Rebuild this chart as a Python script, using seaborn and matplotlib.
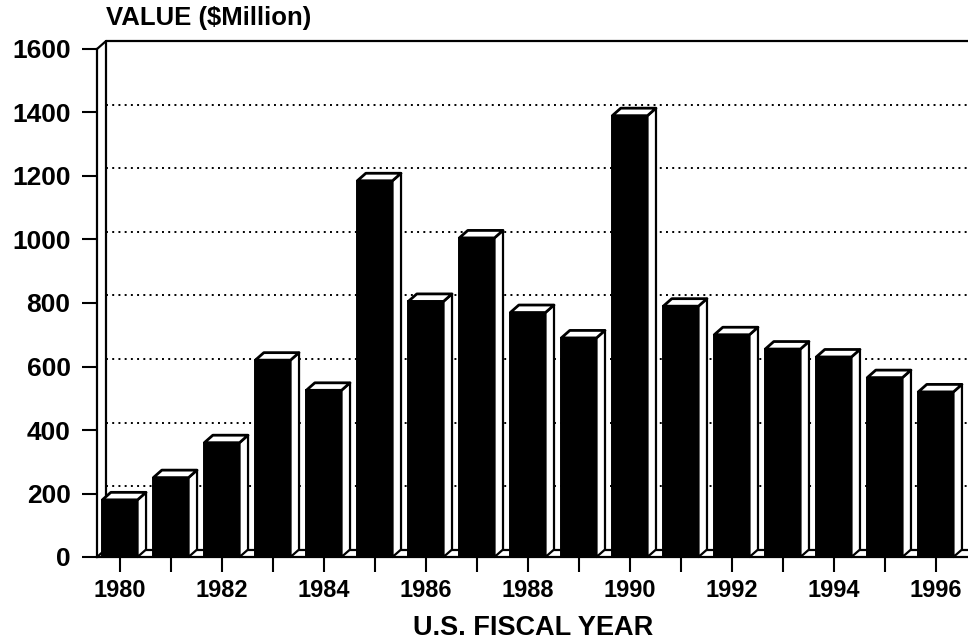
import matplotlib
matplotlib.use("Agg")
import matplotlib.pyplot as plt
from matplotlib.patches import Polygon
import seaborn as sns
import pandas as pd

# Annual value, U.S. fiscal years 1980-1996 ($ million)
years = [1980, 1981, 1982, 1983, 1984, 1985, 1986, 1987, 1988,
         1989, 1990, 1991, 1992, 1993, 1994, 1995, 1996]
values = [180, 250, 360, 620, 525, 1185, 805, 1005, 770,
          690, 1390, 790, 700, 655, 630, 565, 520]
y_ticks = [0, 200, 400, 600, 800, 1000, 1200, 1400, 1600]

sns.set_theme(style="white")
plt.rcParams["font.family"] = ["Liberation Sans", "DejaVu Sans"]
plt.rcParams["font.weight"] = "bold"
for key in ["text.color", "axes.labelcolor", "xtick.color", "ytick.color",
            "xtick.labelcolor", "ytick.labelcolor"]:
    plt.rcParams[key] = "black"

df = pd.DataFrame({"year": [str(y) for y in years], "value": values})

W, H = 968, 644
fig = plt.figure(figsize=(W / 100, H / 100), dpi=100)
ax_left, ax_right = 97, 968
ax_bottom, ax_top = 557, 49
ax = fig.add_axes([ax_left / W, (H - ax_bottom) / H,
                   (ax_right - ax_left) / W, (ax_bottom - ax_top) / H])

bar_w = 0.69
sns.barplot(data=df, x="year", y="value", color="black", saturation=1,
            width=bar_w, edgecolor="black", linewidth=1.4, ax=ax, zorder=5)

x0, x1 = -0.45, 16.63
ax.set_xlim(x0, x1)
ax.set_ylim(0, 1600)

# depth of the 3-D extrusion in pixels, converted to data units
px_x = (x1 - x0) / (ax_right - ax_left)
px_y = 1600 / (ax_bottom - ax_top)
dx, dy = 8.5 * px_x, 7.5 * px_y

# back wall, floor and connecting edges
lw = 1.6
wall_kw = dict(color="black", lw=lw, clip_on=False, zorder=3,
               solid_capstyle="round")
ax.plot([x0 + dx, x0 + dx], [dy, 1600 + dy], **wall_kw)
ax.plot([x0 + dx, x1], [1600 + dy, 1600 + dy], **wall_kw)
ax.plot([x0 + dx, x1], [dy, dy], **wall_kw)
ax.plot([x0, x0 + dx], [0, dy], **wall_kw)
ax.plot([x0, x0 + dx], [1600, 1600 + dy], **wall_kw)

# dotted gridlines on the back wall
for v in y_ticks[1:-1]:
    ax.plot([x0 + dx, x1], [v + dy, v + dy], color="black", lw=1.4,
            linestyle=(0, (1, 2.2)), clip_on=False, zorder=2)

# top and side faces of each bar
for i, v in enumerate(values):
    l, r = i - bar_w / 2, i + bar_w / 2
    top = Polygon([(l, v), (l + dx, v + dy), (r + dx, v + dy), (r, v)],
                  closed=True, facecolor="white", edgecolor="black",
                  lw=2.0, zorder=6, clip_on=False, joinstyle="round")
    side = Polygon([(r, 0), (r + dx, dy), (r + dx, v + dy), (r, v)],
                   closed=True, facecolor="white", edgecolor="black",
                   lw=1.6, zorder=6, clip_on=False, joinstyle="round")
    ax.add_patch(side)
    ax.add_patch(top)

# axes styling
for s in ["top", "right"]:
    ax.spines[s].set_visible(False)
for s in ["left", "bottom"]:
    ax.spines[s].set_color("black")
    ax.spines[s].set_linewidth(1.6)
    ax.spines[s].set_zorder(7)

ax.set_yticks(y_ticks)
ax.set_yticklabels([str(t) for t in y_ticks])
ax.set_xticks(range(len(years)))
ax.set_xticklabels([str(y) if y % 2 == 0 else "" for y in years])
ax.tick_params(axis="both", direction="out", length=11, width=1.5,
               colors="black", bottom=True, left=True)
ax.tick_params(axis="x", pad=5, labelsize=17)
ax.tick_params(axis="y", pad=8, labelsize=19)
for lab in ax.get_xticklabels() + ax.get_yticklabels():
    lab.set_fontweight("bold")

ax.set_xlabel("")
ax.set_ylabel("")
fig.text(533 / W, 1 - 628 / H, "U.S. FISCAL YEAR", fontsize=19.5,
         fontweight="bold", va="center", ha="center")
fig.text(106 / W, 1 - 18 / H, "VALUE ($Million)", fontsize=18.5,
         fontweight="bold", va="center", ha="left")

fig.savefig("out.png", dpi=100, facecolor="white")
